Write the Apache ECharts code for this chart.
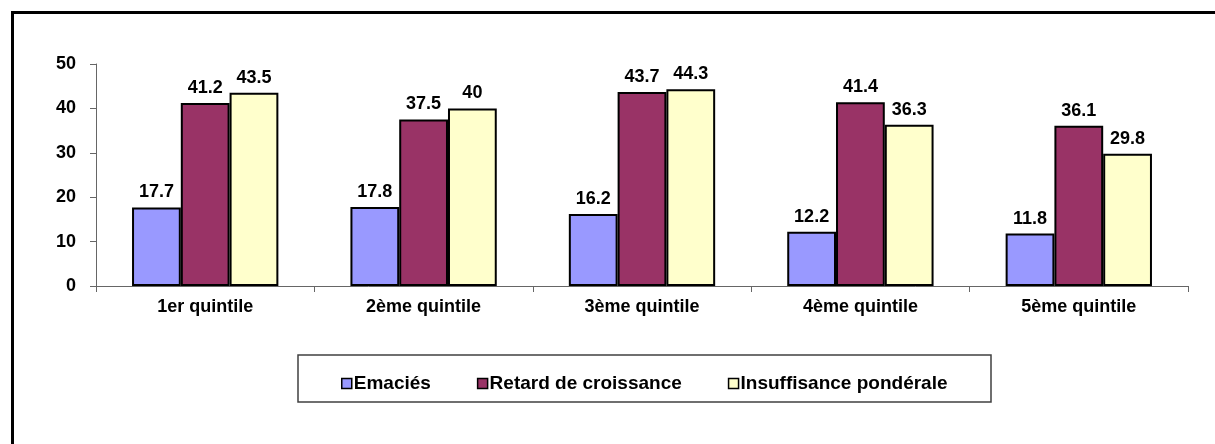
<!DOCTYPE html>
<html>
<head>
<meta charset="utf-8">
<script src="https://cdn.jsdelivr.net/npm/echarts@6/dist/echarts.min.js"></script>
<style>
html,body{margin:0;padding:0;background:#fff;}
#chart{width:1215px;height:444px;}
</style>
</head>
<body>
<div id="chart"></div>
<script>
const categories = ['1er quintile', '2ème quintile', '3ème quintile', '4ème quintile', '5ème quintile'];
const seriesNames = ['Emaciés', 'Retard de croissance', 'Insuffisance pondérale'];
const emacies = [17.7, 17.8, 16.2, 12.2, 11.8];
const retard = [41.2, 37.5, 43.7, 41.4, 36.1];
const insuffisance = [43.5, 40, 44.3, 36.3, 29.8];
const colors = ['#9999FF', '#993366', '#FFFFCC'];

const FONT = "'Liberation Sans', Arial, sans-serif";
const chart = echarts.init(document.getElementById('chart'), null, {renderer: 'canvas'});

function mk(name, data, color) {
  return {
    name: name,
    type: 'bar',
    data: data,
    barGap: '0%',
    barCategoryGap: '33%',
    itemStyle: {color: color, borderColor: '#000', borderWidth: 2},
    label: {
      show: true, position: 'top', distance: 6,
      color: '#000', fontFamily: FONT, fontWeight: 'bold', fontSize: 18
    },
    emphasis: {disabled: true}
  };
}

chart.setOption({
  animation: false,
  backgroundColor: '#fff',
  graphic: [
    {type: 'rect', shape: {x: 12.5, y: 12.5, width: 1400, height: 600},
     style: {fill: 'none', stroke: '#000', lineWidth: 3}, silent: true},
    {type: 'rect', shape: {x: 298, y: 355, width: 693, height: 47},
     style: {fill: '#fff', stroke: '#404040', lineWidth: 1.5}, silent: true, z: -1}
  ],
  grid: {left: 96, right: 27, top: 64, bottom: 158},
  legend: {
    data: seriesNames,
    left: 336, top: 369,
    itemWidth: 10, itemHeight: 10, itemGap: 46,
    icon: 'rect',
    itemStyle: {borderColor: '#000', borderWidth: 1.5},
    textStyle: {color: '#000', fontFamily: FONT, fontWeight: 'bold', fontSize: 19, padding: [0, 0, 0, -3]},
    selectedMode: false
  },
  xAxis: {
    type: 'category',
    data: categories,
    axisLine: {lineStyle: {color: '#666', width: 1}},
    axisTick: {show: true, length: 6, lineStyle: {color: '#666'}},
    axisLabel: {color: '#000', fontFamily: FONT, fontWeight: 'bold', fontSize: 18, margin: 12}
  },
  yAxis: {
    type: 'value',
    min: 0, max: 50, interval: 10,
    splitLine: {show: false},
    axisLine: {show: true, lineStyle: {color: '#666', width: 1}},
    axisTick: {show: true, length: 6, lineStyle: {color: '#666'}},
    axisLabel: {color: '#000', fontFamily: FONT, fontWeight: 'bold', fontSize: 18, margin: 20}
  },
  series: [
    mk(seriesNames[0], emacies, colors[0]),
    mk(seriesNames[1], retard, colors[1]),
    mk(seriesNames[2], insuffisance, colors[2])
  ]
});
</script>
</body>
</html>
